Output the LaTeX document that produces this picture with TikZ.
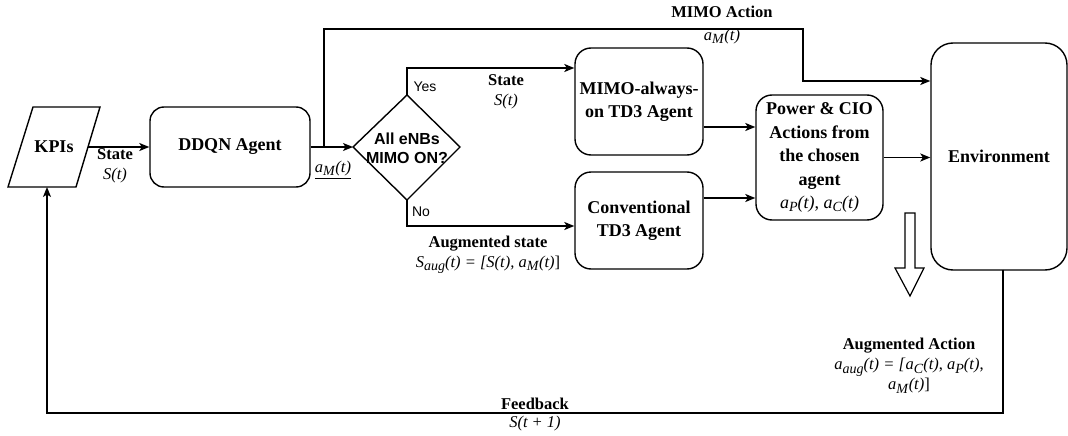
\documentclass[tikz,border=0pt]{standalone}
\usepackage{fontspec}
\setmainfont{Liberation Serif}
\newfontfamily\arialf{Liberation Sans}
\usetikzlibrary{arrows.meta,shapes.geometric}
\newcommand{\sbs}[1]{\raisebox{-0.4ex}{\fontsize{14}{14}\selectfont\textit{#1}}}
\newcommand{\am}{\textit{a}\sbs{M}\textit{(t)}}
\newcommand{\ap}{\textit{a}\sbs{P}\textit{(t)}}
\newcommand{\ac}{\textit{a}\sbs{C}\textit{(t)}}
\tikzset{
  ln/.style={line width=1.4pt},
  arr/.style={ln,-{Stealth[length=10pt,width=8pt,inset=2.5pt]}},
  box/.style={draw,ln,rounded corners=14pt,align=center,inner sep=0pt,
    font=\bfseries\fontsize{18}{23.5}\selectfont},
  lbl/.style={align=center,inner sep=0pt,font=\fontsize{16.5}{20}\selectfont},
  sans/.style={inner sep=0pt,font=\arialf\fontsize{14}{16}\selectfont},
}
\begin{document}
\begin{tikzpicture}[x=1pt,y=-1pt]
\useasboundingbox (0,0) rectangle (1068,436);
% KPIs parallelogram
\draw[ln] (33,107) -- (100,107) -- (76,187) -- (8,187) -- cycle;
\node[inner sep=0pt,font=\bfseries\fontsize{18}{22}\selectfont] (kpi) at (54,147) {KPIs};
\coordinate (kpir) at (88,147);
\coordinate (kpib) at (47,187);
% boxes
\node[box,minimum width=160pt,minimum height=80pt] (ddqn) at (230,147) {DDQN Agent};
\node[box,minimum width=128pt,minimum height=107pt,rounded corners=16pt] (mimo) at (639,101.5) {MIMO-always-\\on TD3 Agent};
\node[box,minimum width=128pt,minimum height=97pt,rounded corners=16pt] (conv) at (639,220.5) {Conventional\\TD3 Agent};
\node[box,minimum width=127pt,minimum height=125pt,rounded corners=16pt] (power) at (819.5,157.5) {Power \& CIO\\Actions from\\the chosen\\agent\\\mdseries\ap, \ac};
\node[box,minimum width=136pt,minimum height=227pt,rounded corners=22pt] (env) at (999,156.5) {Environment};
% diamond
\coordinate (dtop) at (407,95);
\coordinate (dleft) at (353,147);
\coordinate (dright) at (460,147);
\coordinate (dbot) at (407,200);
\draw[ln] (dtop) -- (dright) -- (dbot) -- (dleft) -- cycle;
\node[align=center,inner sep=0pt,font=\arialf\bfseries\fontsize{16}{19}\selectfont] (dia) at (407,148) {All eNBs\\MIMO ON?};
% connectors
\draw[arr] (kpir) -- (ddqn.west);
\draw[arr] (ddqn.east) -- (dleft);
\coordinate (j) at (324,147);
\coordinate (mt) at (803,29);
\draw[arr] (j) |- (mt) |- ([yshift=75.5pt]env.west);
\draw[arr] (dtop) |- ([yshift=33.5pt]mimo.west);
\draw[arr] (dbot) |- ([yshift=-5.5pt]conv.west);
\coordinate (m1) at ([yshift=-25.5pt]mimo.east);
\draw[arr] (m1) -- (m1 -| power.west);
\coordinate (c1) at ([yshift=22.5pt]conv.east);
\draw[arr] (c1) -- (c1 -| power.west);
\draw[arr] (power.east) -- (power.east -| env.west);
\coordinate (fb0) at (1003,269.5);
\coordinate (fbc) at (47,413);
\draw[arr] (fb0) |- (fbc) -- (kpib);
% hollow arrow
\draw[line width=1.2pt,line join=miter] (905,213) -- (915,213) -- (915,268) -- (924,268) -- (910,296) -- (895,268) -- (905,268) -- cycle;
% labels
\node[lbl] (l1) at (115,166) {\textbf{State}\\\textit{S(t)}};
\node[lbl] (l2) at (506,92) {\textbf{State}\\\textit{S(t)}};
\node[lbl] (l3) at (488,255) {\textbf{Augmented state}\\\textit{S}\sbs{aug}\textit{(t) = [S(t),} \am]};
\node[lbl] (l4) at (722,12) {\textbf{MIMO Action}};
\node[lbl] (l5) at (722,37) {\am};
\node[lbl] (l6) at (333,170) {\underline{\am}};
\node[sans] (yes) at (425,87) {Yes};
\node[sans] (no) at (421,212) {No};
\node[lbl] (l7) at (909,366) {\textbf{Augmented Action}\\\textit{a}\sbs{aug}\textit{(t) = [}\ac, \ap,\\\am]};
\node[lbl] (l8) at (535,404) {\textbf{Feedback}};
\node[lbl] (l9) at (535,424) {\textit{S(t + 1)}};
\end{tikzpicture}
\end{document}
